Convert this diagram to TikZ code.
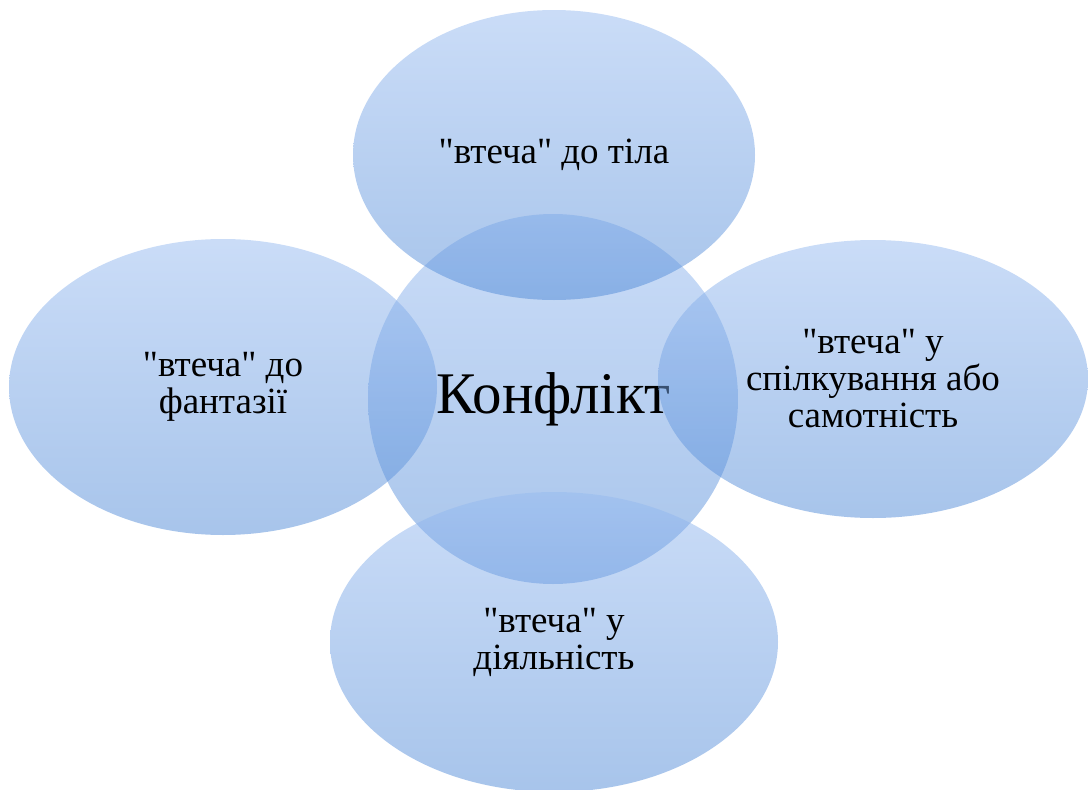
\documentclass[tikz,border=0pt]{standalone}
\usepackage{fontspec}
\setmainfont{Liberation Serif}[Ligatures=TeXOff]
\usepackage{tikz}
\usetikzlibrary{shapes.geometric}

\definecolor{bubtop}{RGB}{150,186,240}
\definecolor{bubbot}{RGB}{80,138,215}

\tikzset{
	bub/.style = {ellipse, inner sep=0pt, align=center,
		top color=bubtop, bottom color=bubbot, fill opacity=0.5, text opacity=1,
		font=\rmfamily\fontsize{37}{37}\selectfont},
}

\begin{document}
\begin{tikzpicture}[x=1pt, y=-1pt]
\useasboundingbox (0,0) rectangle (1088,790);
\node (m) [bub, circle, minimum size=370pt, font=\rmfamily\fontsize{59}{60}\selectfont] at (553,399) {Конфлікт};
\node (tilo) [bub, minimum width=402pt, minimum height=290pt] at (554,155) {"втеча" до тіла};
\node (fant) [bub, minimum width=428pt, minimum height=296pt] at (223,387) {"втеча" до\\фантазії};
\node (spilk) [bub, minimum width=430pt, minimum height=278pt] at (873,379) {"втеча" у\\спілкування або\\самотність};
\node (diyal) [bub, minimum width=448pt, minimum height=300pt] at (554,642) {"втеча" у\\діяльність};
\end{tikzpicture}
\end{document}
